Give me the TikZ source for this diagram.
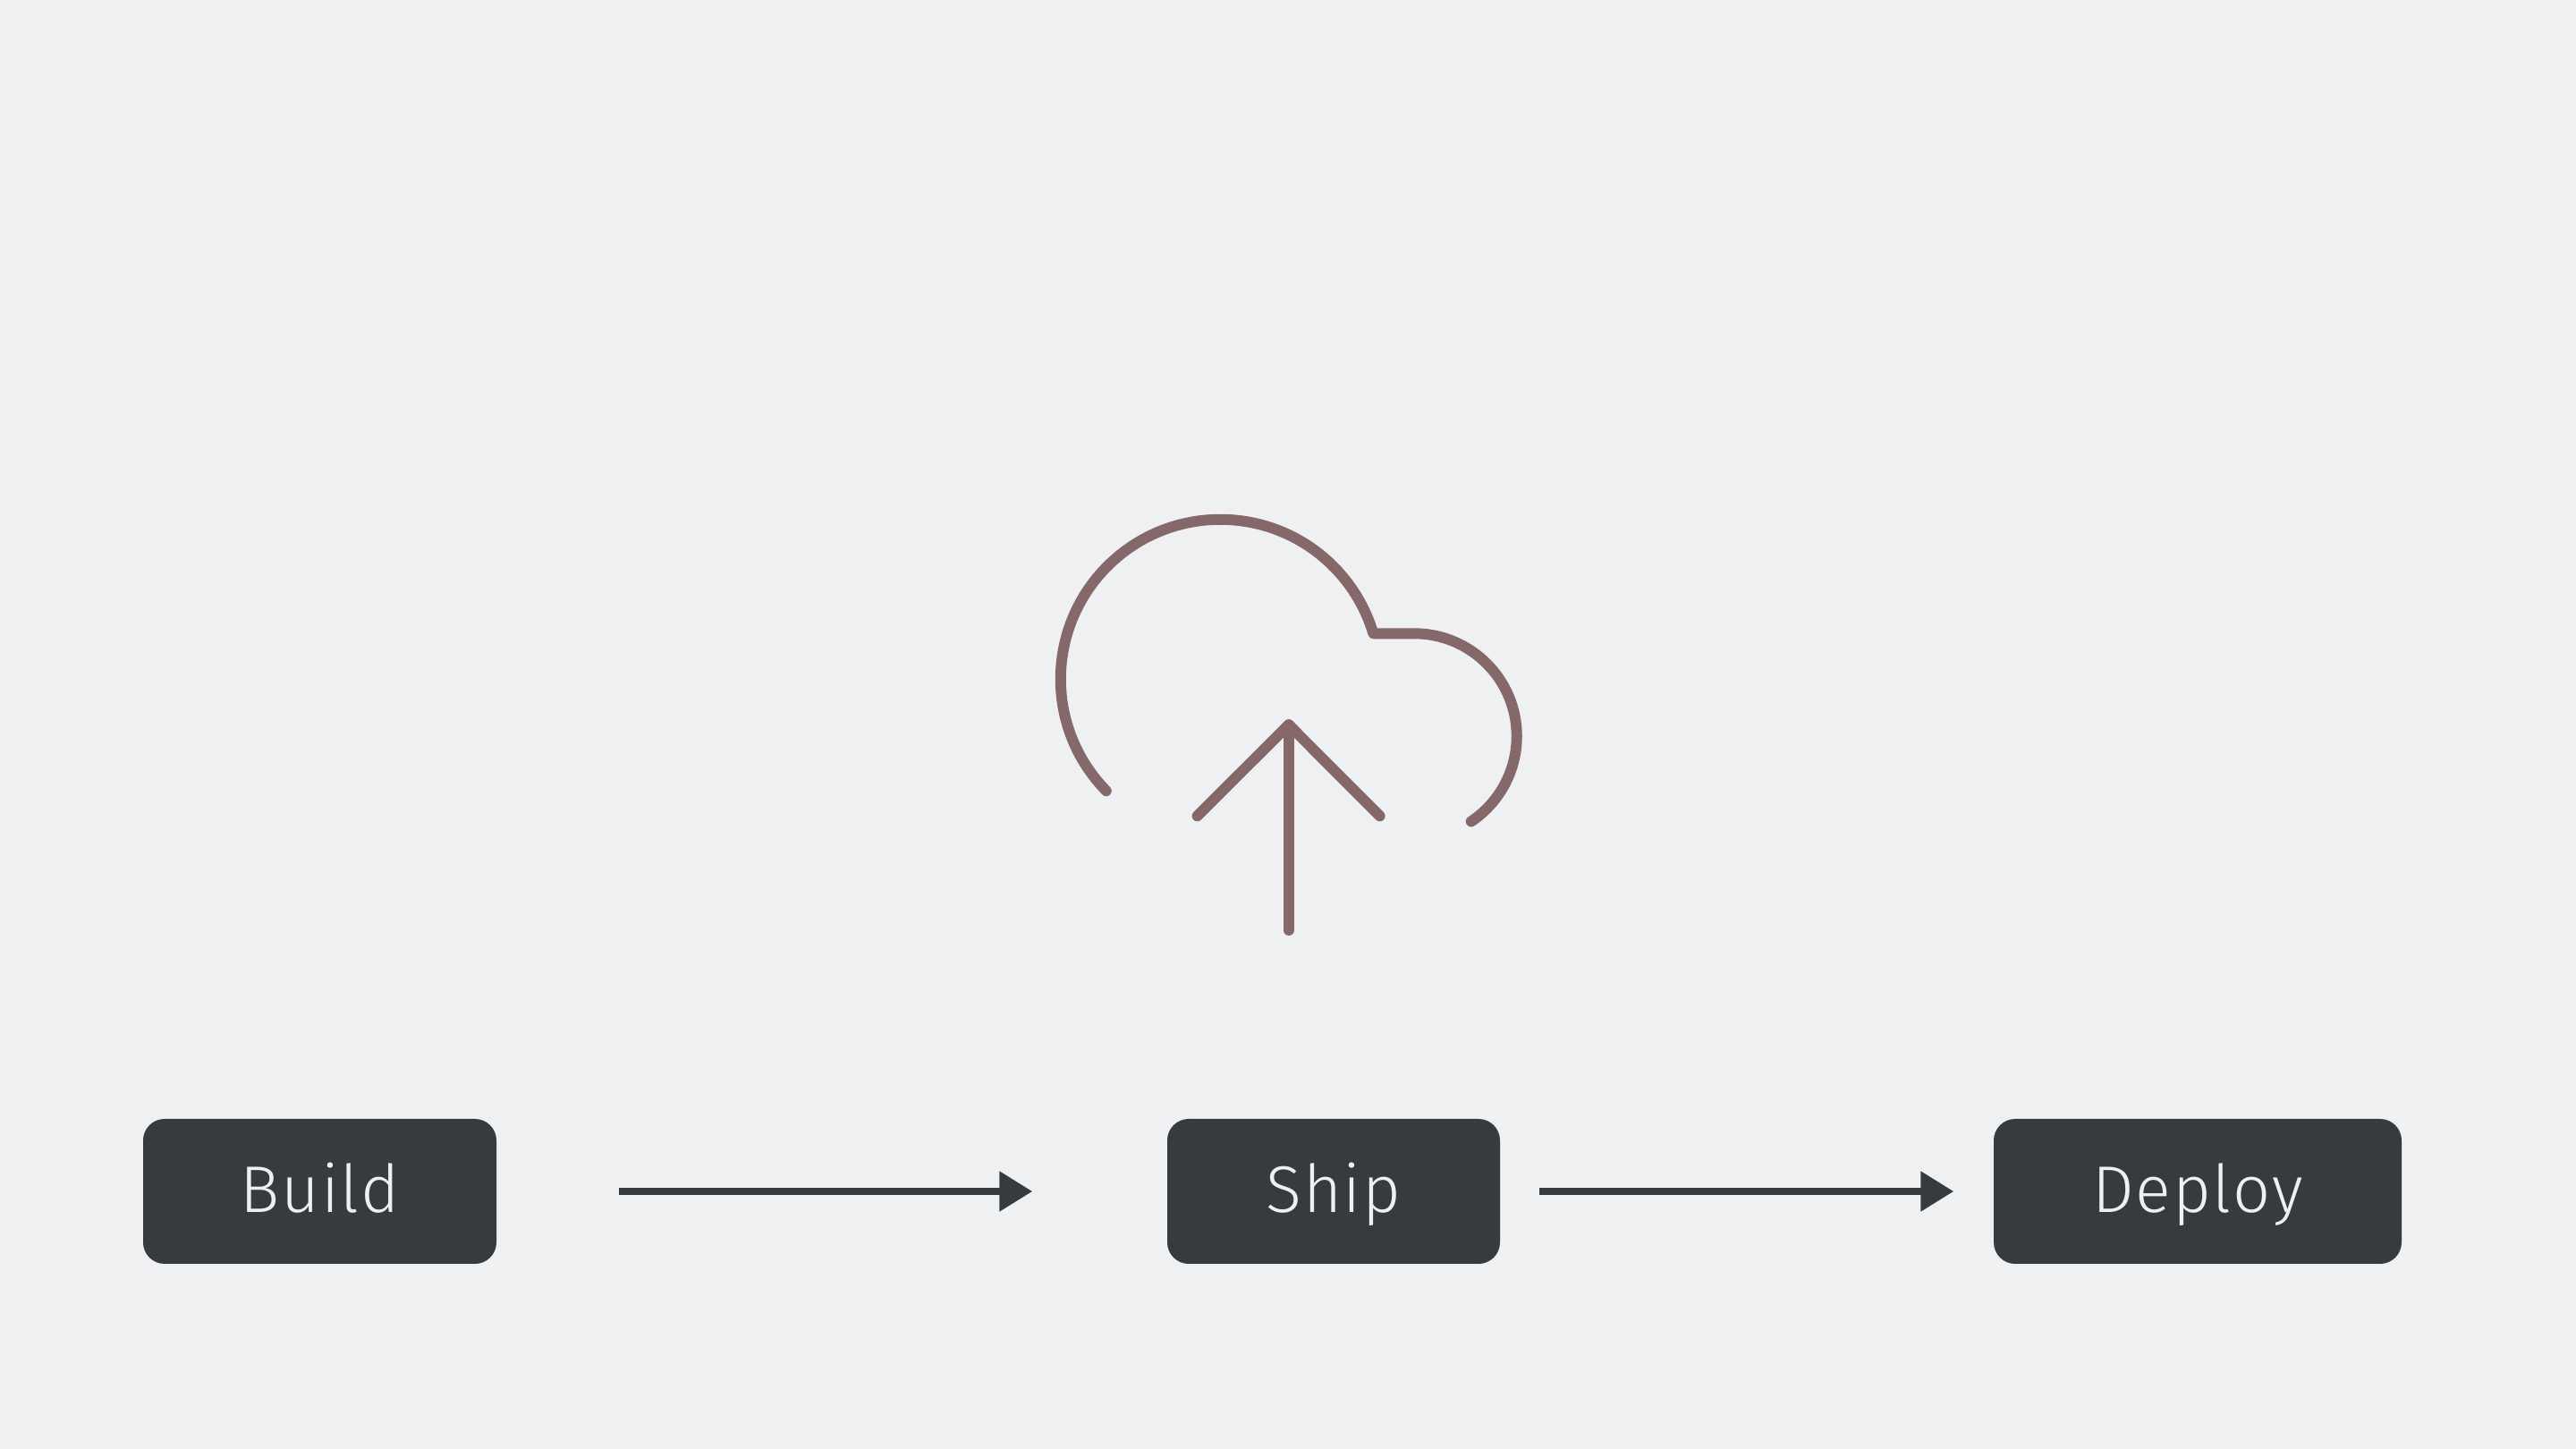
\documentclass[tikz,border=0pt]{standalone}
\usepackage{fontspec}
\setmainfont{Fira Sans Light}[LetterSpace=2.5]
\usetikzlibrary{arrows.meta}
\definecolor{pagebg}{HTML}{EFF0F2}
\definecolor{boxfill}{HTML}{363B3D}
\definecolor{cloudline}{HTML}{85696A}
\begin{document}
\begin{tikzpicture}
            \fill[pagebg] (0,0) rectangle (28.8,16.2);
            \begin{scope}[every node/.style={rectangle,rounded corners=0.24cm,fill=boxfill,text=pagebg,
                    minimum height=1.62cm,inner sep=0pt,text height=0.47cm,text depth=0pt,font=\fontsize{21}{25}\selectfont}]
                \node[minimum width=3.95cm] (build) at (3.575,2.88) {Build};
                \node[minimum width=3.72cm] (ship) at (14.91,2.88) {Ship};
                \node[minimum width=4.56cm] (deploy) at (24.57,2.88) {Deploy};
            \end{scope}
            \begin{scope}[every edge/.style={draw=boxfill,line width=0.085cm,-{Triangle[length=0.37cm,width=0.43cm]}}]
                \path
                    (build) edge [shorten <=1.365cm,shorten >=1.50cm] (ship)
                    (ship) edge [shorten <=0.435cm,shorten >=0.44cm] (deploy);
            \end{scope}
            \begin{scope}[line width=0.12cm,line cap=round,line join=round]
                % cloud outline
                \draw[cloudline] (12.368,7.358) arc[start angle=224.42,end angle=16.6,radius=1.785]
                    -- (15.81,9.117) arc[start angle=90,end angle=-56.25,radius=1.1475];
                % arrow
                \draw[cloudline] (14.408,5.8) -- (14.408,8.097);
                \draw[cloudline] (13.386,7.077) -- (14.408,8.097) -- (15.426,7.077);
            \end{scope}
        \end{tikzpicture}
\end{document}
